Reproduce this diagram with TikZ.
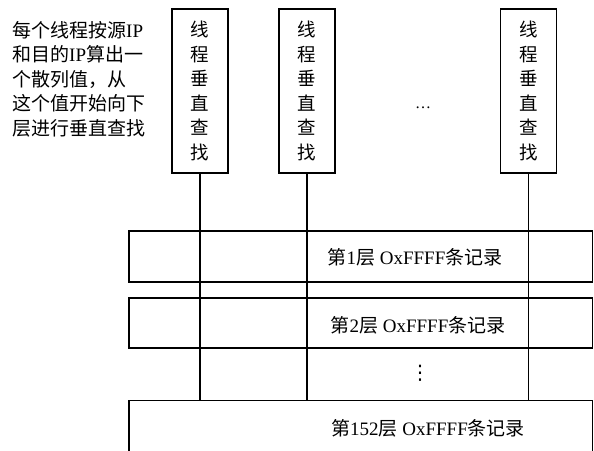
\documentclass[tikz,border=0pt]{standalone}
\usepackage{fontspec}
\setmainfont{Liberation Serif}
\newfontfamily\cjk{Noto Sans CJK SC}
\newfontfamily\dejavu{DejaVu Sans}
\begin{document}
\begin{tikzpicture}[x=1pt,y=-1pt,
  box/.style={draw,line width=1.2pt,inner sep=0pt},
  threadbox/.style={box,minimum width=56pt,minimum height=164pt,align=center,
     font=\cjk\fontsize{18.5}{24.5}\selectfont},
  layerbox/.style={box,minimum width=463.5pt},
  layertext/.style={inner sep=0pt,font=\fontsize{19}{22}\selectfont},
  conn/.style={line width=1.2pt}]
\useasboundingbox (0,0) rectangle (594,450);
\fill[white] (0,0) rectangle (594,450);
% explanatory text
\node[anchor=north west,inner sep=0pt,align=left,font=\fontsize{19}{24.5}\selectfont] (note) at (12,21)
  {{\cjk 每个线程按源}IP\\{\cjk 和目的}IP{\cjk 算出一}\\{\cjk 个散列值，从}\\{\cjk 这个值开始向下}\\{\cjk 层进行垂直查找}};
% thread boxes
\node[threadbox] (t1) at (200,91) {\raisebox{-5pt}{\parbox{20pt}{\centering 线\\程\\垂\\直\\查\\找}}};
\node[threadbox] (t2) at (307,91) {\raisebox{-5pt}{\parbox{20pt}{\centering 线\\程\\垂\\直\\查\\找}}};
\node[threadbox] (t3) at (528.5,91) {\raisebox{-5pt}{\parbox{20pt}{\centering 线\\程\\垂\\直\\查\\找}}};
\node[inner sep=0pt,font=\fontsize{16}{16}\selectfont] (hdots) at (423,108) {…};
% layers
\node[layerbox,minimum height=51pt] (l1) at (360.75,256.5) {};
\node[layerbox,minimum height=50pt] (l2) at (360.75,323) {};
\node[layerbox,minimum height=60pt,anchor=north] (l152) at (360.75,400) {};
\node[layertext] (l1t) at (415,257) {{\cjk 第}1{\cjk 层} OxFFFF{\cjk 条记录}};
\node[layertext] (l2t) at (418,325) {{\cjk 第}2{\cjk 层} OxFFFF{\cjk 条记录}};
\node[inner sep=0pt,font=\dejavu\fontsize{20}{20}\selectfont] (vdots) at (420,373) {⋮};
\node[layertext] (l152t) at (428,428) {{\cjk 第}152{\cjk 层} OxFFFF{\cjk 条记录}};
% connectors
\foreach \t in {t1,t2,t3}
  \draw[conn] (\t.south) -- (\t.south |- l152.north);
\end{tikzpicture}
\end{document}
